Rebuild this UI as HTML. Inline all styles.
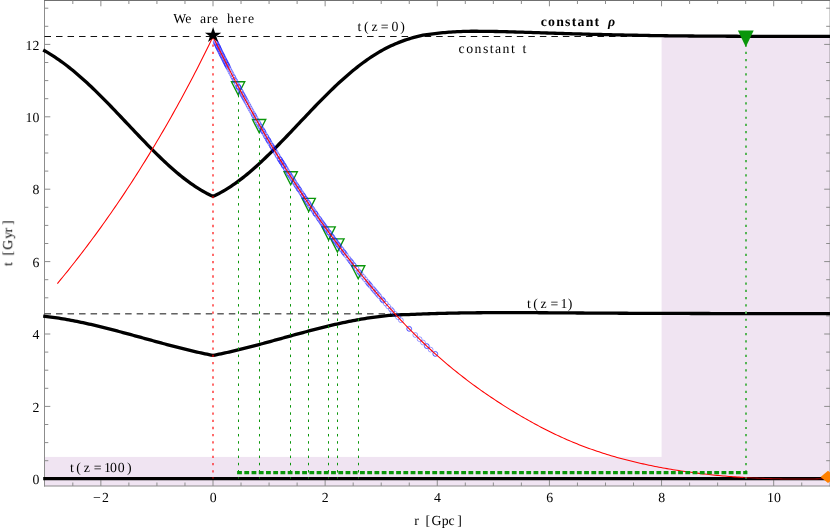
<!DOCTYPE html>
<html><head><meta charset="utf-8"><title>plot</title>
<style>html,body{margin:0;padding:0;background:#fff;}svg{display:block;}text{font-family:"Liberation Serif",serif;font-size:13.8px;fill:#000;text-rendering:geometricPrecision;}</style></head><body>
<svg width="830" height="531" viewBox="0 0 830 531">
<rect x="0" y="0" width="830" height="531" fill="#fff"/>
<rect x="44.7" y="456.9" width="785.3" height="29.2" fill="#F0E4F2"/>
<rect x="661.6" y="36.5" width="168.4" height="449.6" fill="#F0E4F2"/>
<g stroke="#8c8c8c" stroke-width="1" fill="none">
<line x1="44.5" y1="0" x2="44.5" y2="486.5"/>
<line x1="44" y1="486" x2="830" y2="486"/>
<line x1="44" y1="0.5" x2="830" y2="0.5" stroke="#707070"/>
<line x1="829.5" y1="1" x2="829.5" y2="486.5" stroke="#666" stroke-opacity="0.3"/>
<line x1="72.82" y1="486" x2="72.82" y2="482.50"/>
<line x1="72.82" y1="0.5" x2="72.82" y2="4.00"/>
<line x1="100.86" y1="486" x2="100.86" y2="480.20"/>
<line x1="100.86" y1="0.5" x2="100.86" y2="6.30"/>
<line x1="128.89" y1="486" x2="128.89" y2="482.50"/>
<line x1="128.89" y1="0.5" x2="128.89" y2="4.00"/>
<line x1="156.93" y1="486" x2="156.93" y2="482.50"/>
<line x1="156.93" y1="0.5" x2="156.93" y2="4.00"/>
<line x1="184.97" y1="486" x2="184.97" y2="482.50"/>
<line x1="184.97" y1="0.5" x2="184.97" y2="4.00"/>
<line x1="213.00" y1="486" x2="213.00" y2="480.20"/>
<line x1="213.00" y1="0.5" x2="213.00" y2="6.30"/>
<line x1="241.03" y1="486" x2="241.03" y2="482.50"/>
<line x1="241.03" y1="0.5" x2="241.03" y2="4.00"/>
<line x1="269.07" y1="486" x2="269.07" y2="482.50"/>
<line x1="269.07" y1="0.5" x2="269.07" y2="4.00"/>
<line x1="297.11" y1="486" x2="297.11" y2="482.50"/>
<line x1="297.11" y1="0.5" x2="297.11" y2="4.00"/>
<line x1="325.14" y1="486" x2="325.14" y2="480.20"/>
<line x1="325.14" y1="0.5" x2="325.14" y2="6.30"/>
<line x1="353.18" y1="486" x2="353.18" y2="482.50"/>
<line x1="353.18" y1="0.5" x2="353.18" y2="4.00"/>
<line x1="381.21" y1="486" x2="381.21" y2="482.50"/>
<line x1="381.21" y1="0.5" x2="381.21" y2="4.00"/>
<line x1="409.25" y1="486" x2="409.25" y2="482.50"/>
<line x1="409.25" y1="0.5" x2="409.25" y2="4.00"/>
<line x1="437.28" y1="486" x2="437.28" y2="480.20"/>
<line x1="437.28" y1="0.5" x2="437.28" y2="6.30"/>
<line x1="465.31" y1="486" x2="465.31" y2="482.50"/>
<line x1="465.31" y1="0.5" x2="465.31" y2="4.00"/>
<line x1="493.35" y1="486" x2="493.35" y2="482.50"/>
<line x1="493.35" y1="0.5" x2="493.35" y2="4.00"/>
<line x1="521.38" y1="486" x2="521.38" y2="482.50"/>
<line x1="521.38" y1="0.5" x2="521.38" y2="4.00"/>
<line x1="549.42" y1="486" x2="549.42" y2="480.20"/>
<line x1="549.42" y1="0.5" x2="549.42" y2="6.30"/>
<line x1="577.45" y1="486" x2="577.45" y2="482.50"/>
<line x1="577.45" y1="0.5" x2="577.45" y2="4.00"/>
<line x1="605.49" y1="486" x2="605.49" y2="482.50"/>
<line x1="605.49" y1="0.5" x2="605.49" y2="4.00"/>
<line x1="633.52" y1="486" x2="633.52" y2="482.50"/>
<line x1="633.52" y1="0.5" x2="633.52" y2="4.00"/>
<line x1="661.56" y1="486" x2="661.56" y2="480.20"/>
<line x1="661.56" y1="0.5" x2="661.56" y2="6.30"/>
<line x1="689.60" y1="486" x2="689.60" y2="482.50"/>
<line x1="689.60" y1="0.5" x2="689.60" y2="4.00"/>
<line x1="717.63" y1="486" x2="717.63" y2="482.50"/>
<line x1="717.63" y1="0.5" x2="717.63" y2="4.00"/>
<line x1="745.66" y1="486" x2="745.66" y2="482.50"/>
<line x1="745.66" y1="0.5" x2="745.66" y2="4.00"/>
<line x1="773.70" y1="486" x2="773.70" y2="480.20"/>
<line x1="773.70" y1="0.5" x2="773.70" y2="6.30"/>
<line x1="801.74" y1="486" x2="801.74" y2="482.50"/>
<line x1="801.74" y1="0.5" x2="801.74" y2="4.00"/>
<line x1="44.5" y1="478.80" x2="50.30" y2="478.80"/>
<line x1="830" y1="478.80" x2="824.20" y2="478.80"/>
<line x1="44.5" y1="460.70" x2="48.30" y2="460.70"/>
<line x1="830" y1="460.70" x2="826.20" y2="460.70"/>
<line x1="44.5" y1="442.60" x2="48.30" y2="442.60"/>
<line x1="830" y1="442.60" x2="826.20" y2="442.60"/>
<line x1="44.5" y1="424.50" x2="48.30" y2="424.50"/>
<line x1="830" y1="424.50" x2="826.20" y2="424.50"/>
<line x1="44.5" y1="406.40" x2="50.30" y2="406.40"/>
<line x1="830" y1="406.40" x2="824.20" y2="406.40"/>
<line x1="44.5" y1="388.30" x2="48.30" y2="388.30"/>
<line x1="830" y1="388.30" x2="826.20" y2="388.30"/>
<line x1="44.5" y1="370.20" x2="48.30" y2="370.20"/>
<line x1="830" y1="370.20" x2="826.20" y2="370.20"/>
<line x1="44.5" y1="352.10" x2="48.30" y2="352.10"/>
<line x1="830" y1="352.10" x2="826.20" y2="352.10"/>
<line x1="44.5" y1="334.00" x2="50.30" y2="334.00"/>
<line x1="830" y1="334.00" x2="824.20" y2="334.00"/>
<line x1="44.5" y1="315.90" x2="48.30" y2="315.90"/>
<line x1="830" y1="315.90" x2="826.20" y2="315.90"/>
<line x1="44.5" y1="297.80" x2="48.30" y2="297.80"/>
<line x1="830" y1="297.80" x2="826.20" y2="297.80"/>
<line x1="44.5" y1="279.70" x2="48.30" y2="279.70"/>
<line x1="830" y1="279.70" x2="826.20" y2="279.70"/>
<line x1="44.5" y1="261.60" x2="50.30" y2="261.60"/>
<line x1="830" y1="261.60" x2="824.20" y2="261.60"/>
<line x1="44.5" y1="243.50" x2="48.30" y2="243.50"/>
<line x1="830" y1="243.50" x2="826.20" y2="243.50"/>
<line x1="44.5" y1="225.40" x2="48.30" y2="225.40"/>
<line x1="830" y1="225.40" x2="826.20" y2="225.40"/>
<line x1="44.5" y1="207.30" x2="48.30" y2="207.30"/>
<line x1="830" y1="207.30" x2="826.20" y2="207.30"/>
<line x1="44.5" y1="189.20" x2="50.30" y2="189.20"/>
<line x1="830" y1="189.20" x2="824.20" y2="189.20"/>
<line x1="44.5" y1="171.10" x2="48.30" y2="171.10"/>
<line x1="830" y1="171.10" x2="826.20" y2="171.10"/>
<line x1="44.5" y1="153.00" x2="48.30" y2="153.00"/>
<line x1="830" y1="153.00" x2="826.20" y2="153.00"/>
<line x1="44.5" y1="134.90" x2="48.30" y2="134.90"/>
<line x1="830" y1="134.90" x2="826.20" y2="134.90"/>
<line x1="44.5" y1="116.80" x2="50.30" y2="116.80"/>
<line x1="830" y1="116.80" x2="824.20" y2="116.80"/>
<line x1="44.5" y1="98.70" x2="48.30" y2="98.70"/>
<line x1="830" y1="98.70" x2="826.20" y2="98.70"/>
<line x1="44.5" y1="80.60" x2="48.30" y2="80.60"/>
<line x1="830" y1="80.60" x2="826.20" y2="80.60"/>
<line x1="44.5" y1="62.50" x2="48.30" y2="62.50"/>
<line x1="830" y1="62.50" x2="826.20" y2="62.50"/>
<line x1="44.5" y1="44.40" x2="50.30" y2="44.40"/>
<line x1="830" y1="44.40" x2="824.20" y2="44.40"/>
<line x1="44.5" y1="26.30" x2="48.30" y2="26.30"/>
<line x1="830" y1="26.30" x2="826.20" y2="26.30"/>
<line x1="44.5" y1="8.20" x2="48.30" y2="8.20"/>
<line x1="830" y1="8.20" x2="826.20" y2="8.20"/>
</g>
<line x1="44.5" y1="36.5" x2="830" y2="36.5" stroke="#111" stroke-width="1" stroke-dasharray="6.5 5.02"/>
<line x1="44.5" y1="313.85" x2="391" y2="313.85" stroke="#111" stroke-width="1" stroke-dasharray="6.5 5.02"/>
<path d="M43.20 50.00 L45.00 51.00 L47.00 52.15 L49.00 53.34 L51.00 54.58 L53.00 55.85 L55.00 57.16 L57.00 58.51 L59.00 59.89 L61.00 61.32 L63.00 62.78 L65.00 64.27 L67.00 65.80 L69.00 67.36 L71.00 68.96 L73.00 70.58 L75.00 72.24 L77.00 73.93 L79.00 75.65 L81.00 77.40 L83.00 79.18 L85.00 80.98 L87.00 82.81 L89.00 84.67 L91.00 86.55 L93.00 88.46 L95.00 90.39 L97.00 92.34 L99.00 94.31 L101.00 96.30 L103.00 98.31 L105.00 100.33 L107.00 102.38 L109.00 104.44 L111.00 106.51 L113.00 108.59 L115.00 110.69 L117.00 112.79 L119.00 114.90 L121.00 117.01 L123.00 119.13 L125.00 121.24 L127.00 123.36 L129.00 125.48 L131.00 127.59 L133.00 129.70 L135.00 131.81 L137.00 133.91 L139.00 136.00 L141.00 138.08 L143.00 140.16 L145.00 142.22 L147.00 144.28 L149.00 146.32 L151.00 148.35 L153.00 150.36 L155.00 152.35 L157.00 154.33 L159.00 156.28 L161.00 158.22 L163.00 160.13 L165.00 162.02 L167.00 163.88 L169.00 165.71 L171.00 167.51 L173.00 169.28 L175.00 171.02 L177.00 172.72 L179.00 174.38 L181.00 176.01 L183.00 177.60 L185.00 179.16 L187.00 180.67 L189.00 182.14 L191.00 183.57 L193.00 184.96 L195.00 186.31 L197.00 187.61 L199.00 188.86 L201.00 190.07 L203.00 191.24 L205.00 192.35 L207.00 193.42 L209.00 194.43 L211.00 195.40 L213.00 196.31 L215.00 195.40 L217.00 194.43 L219.00 193.42 L221.00 192.35 L223.00 191.24 L225.00 190.07 L227.00 188.86 L229.00 187.61 L231.00 186.31 L233.00 184.96 L235.00 183.57 L237.00 182.14 L239.00 180.67 L241.00 179.16 L243.00 177.60 L245.00 176.01 L247.00 174.38 L249.00 172.72 L251.00 171.02 L253.00 169.28 L255.00 167.51 L257.00 165.71 L259.00 163.88 L261.00 162.02 L263.00 160.13 L265.00 158.22 L267.00 156.28 L269.00 154.33 L271.00 152.35 L273.00 150.36 L275.00 148.35 L277.00 146.32 L279.00 144.28 L281.00 142.22 L283.00 140.16 L285.00 138.08 L287.00 136.00 L289.00 133.91 L291.00 131.81 L293.00 129.70 L295.00 127.59 L297.00 125.48 L299.00 123.36 L301.00 121.24 L303.00 119.13 L305.00 117.01 L307.00 114.90 L309.00 112.79 L311.00 110.69 L313.00 108.59 L315.00 106.51 L317.00 104.44 L319.00 102.38 L321.00 100.33 L323.00 98.31 L325.00 96.30 L327.00 94.31 L329.00 92.34 L331.00 90.39 L333.00 88.46 L335.00 86.55 L337.00 84.67 L339.00 82.81 L341.00 80.98 L343.00 79.18 L345.00 77.40 L347.00 75.65 L349.00 73.93 L351.00 72.24 L353.00 70.58 L355.00 68.96 L357.00 67.36 L359.00 65.80 L361.00 64.27 L363.00 62.78 L365.00 61.32 L367.00 59.89 L369.00 58.51 L371.00 57.16 L373.00 55.85 L375.00 54.58 L377.00 53.34 L379.00 52.15 L381.00 51.00 L383.00 49.89 L385.00 48.82 L387.00 47.78 L389.00 46.79 L391.00 45.84 L393.00 44.92 L395.00 44.04 L397.00 43.20 L399.00 42.39 L401.00 41.62 L403.00 40.88 L405.00 40.17 L407.00 39.49 L409.00 38.84 L411.00 38.22 L413.00 37.63 L415.00 37.08 L417.00 36.56 L419.00 36.07 L421.00 35.62 L423.00 35.22 L425.00 34.86 L427.00 34.55 L429.00 34.28 L431.00 34.03 L433.00 33.79 L435.00 33.55 L437.00 33.32 L439.00 33.10 L441.00 32.90 L443.00 32.71 L445.00 32.52 L447.00 32.35 L449.00 32.19 L451.00 32.05 L453.00 31.92 L455.00 31.81 L457.00 31.71 L459.00 31.62 L461.00 31.55 L463.00 31.47 L465.00 31.40 L467.00 31.35 L469.00 31.30 L471.00 31.27 L473.00 31.26 L475.00 31.26 L477.00 31.27 L479.00 31.28 L481.00 31.29 L483.00 31.31 L485.00 31.33 L487.00 31.36 L489.00 31.39 L491.00 31.42 L493.00 31.45 L495.00 31.48 L497.00 31.51 L499.00 31.54 L501.00 31.59 L503.00 31.63 L505.00 31.69 L507.00 31.74 L509.00 31.80 L511.00 31.86 L513.00 31.92 L515.00 31.98 L517.00 32.03 L519.00 32.09 L521.00 32.15 L523.00 32.22 L525.00 32.28 L527.00 32.34 L529.00 32.41 L531.00 32.47 L533.00 32.53 L535.00 32.60 L537.00 32.66 L539.00 32.72 L541.00 32.79 L543.00 32.85 L545.00 32.92 L547.00 32.98 L549.00 33.05 L551.00 33.11 L553.00 33.18 L555.00 33.24 L557.00 33.30 L559.00 33.37 L561.00 33.43 L563.00 33.49 L565.00 33.55 L567.00 33.61 L569.00 33.68 L571.00 33.74 L573.00 33.80 L575.00 33.86 L577.00 33.91 L579.00 33.97 L581.00 34.02 L583.00 34.08 L585.00 34.13 L587.00 34.18 L589.00 34.23 L591.00 34.28 L593.00 34.33 L595.00 34.38 L597.00 34.43 L599.00 34.48 L601.00 34.52 L603.00 34.57 L605.00 34.62 L607.00 34.66 L609.00 34.70 L611.00 34.75 L613.00 34.79 L615.00 34.83 L617.00 34.87 L619.00 34.91 L621.00 34.95 L623.00 34.99 L625.00 35.04 L627.00 35.08 L629.00 35.12 L631.00 35.16 L633.00 35.20 L635.00 35.23 L637.00 35.27 L639.00 35.31 L641.00 35.35 L643.00 35.39 L645.00 35.42 L647.00 35.46 L649.00 35.50 L651.00 35.53 L653.00 35.56 L655.00 35.60 L657.00 35.63 L659.00 35.66 L661.00 35.69 L663.00 35.71 L665.00 35.74 L667.00 35.76 L669.00 35.79 L671.00 35.81 L673.00 35.83 L675.00 35.85 L677.00 35.87 L679.00 35.89 L681.00 35.91 L683.00 35.93 L685.00 35.95 L687.00 35.97 L689.00 35.99 L691.00 36.00 L693.00 36.02 L695.00 36.04 L697.00 36.05 L699.00 36.07 L701.00 36.08 L703.00 36.10 L705.00 36.11 L707.00 36.13 L709.00 36.14 L711.00 36.15 L713.00 36.16 L715.00 36.17 L717.00 36.18 L719.00 36.20 L721.00 36.20 L723.00 36.21 L725.00 36.22 L727.00 36.23 L729.00 36.24 L731.00 36.25 L733.00 36.26 L735.00 36.27 L737.00 36.27 L739.00 36.28 L741.00 36.29 L743.00 36.30 L745.00 36.30 L747.00 36.31 L749.00 36.32 L751.00 36.32 L753.00 36.33 L755.00 36.33 L757.00 36.34 L759.00 36.34 L761.00 36.35 L763.00 36.35 L765.00 36.35 L767.00 36.36 L769.00 36.36 L771.00 36.36 L773.00 36.37 L775.00 36.37 L777.00 36.37 L779.00 36.38 L781.00 36.38 L783.00 36.38 L785.00 36.39 L787.00 36.39 L789.00 36.39 L791.00 36.39 L793.00 36.40 L795.00 36.40 L797.00 36.40 L799.00 36.40 L801.00 36.40 L803.00 36.40 L805.00 36.40 L807.00 36.40 L809.00 36.40 L811.00 36.40 L813.00 36.40 L815.00 36.40 L817.00 36.40 L819.00 36.40 L821.00 36.40 L823.00 36.40 L825.00 36.40 L827.00 36.40 L829.00 36.40 L830.10 36.40" fill="none" stroke="#000" stroke-width="3.3" stroke-linejoin="miter"/>
<path d="M43.20 316.09 L45.00 316.29 L47.00 316.53 L49.00 316.78 L51.00 317.04 L53.00 317.31 L55.00 317.60 L57.00 317.89 L59.00 318.20 L61.00 318.52 L63.00 318.85 L65.00 319.19 L67.00 319.55 L69.00 319.91 L71.00 320.28 L73.00 320.66 L75.00 321.05 L77.00 321.45 L79.00 321.86 L81.00 322.28 L83.00 322.70 L85.00 323.14 L87.00 323.58 L89.00 324.03 L91.00 324.48 L93.00 324.94 L95.00 325.41 L97.00 325.89 L99.00 326.37 L101.00 326.86 L103.00 327.35 L105.00 327.85 L107.00 328.36 L109.00 328.87 L111.00 329.38 L113.00 329.90 L115.00 330.42 L117.00 330.94 L119.00 331.47 L121.00 332.01 L123.00 332.54 L125.00 333.08 L127.00 333.62 L129.00 334.16 L131.00 334.71 L133.00 335.26 L135.00 335.80 L137.00 336.35 L139.00 336.90 L141.00 337.45 L143.00 338.00 L145.00 338.56 L147.00 339.11 L149.00 339.66 L151.00 340.21 L153.00 340.75 L155.00 341.30 L157.00 341.85 L159.00 342.39 L161.00 342.93 L163.00 343.47 L165.00 344.01 L167.00 344.55 L169.00 345.08 L171.00 345.60 L173.00 346.13 L175.00 346.65 L177.00 347.17 L179.00 347.68 L181.00 348.18 L183.00 348.69 L185.00 349.18 L187.00 349.67 L189.00 350.16 L191.00 350.64 L193.00 351.11 L195.00 351.58 L197.00 352.04 L199.00 352.49 L201.00 352.94 L203.00 353.38 L205.00 353.81 L207.00 354.23 L209.00 354.64 L211.00 355.05 L213.00 355.44 L215.00 355.05 L217.00 354.64 L219.00 354.23 L221.00 353.81 L223.00 353.38 L225.00 352.94 L227.00 352.49 L229.00 352.04 L231.00 351.58 L233.00 351.11 L235.00 350.64 L237.00 350.16 L239.00 349.67 L241.00 349.18 L243.00 348.69 L245.00 348.18 L247.00 347.68 L249.00 347.17 L251.00 346.65 L253.00 346.13 L255.00 345.60 L257.00 345.08 L259.00 344.55 L261.00 344.01 L263.00 343.47 L265.00 342.93 L267.00 342.39 L269.00 341.85 L271.00 341.30 L273.00 340.75 L275.00 340.21 L277.00 339.66 L279.00 339.11 L281.00 338.56 L283.00 338.00 L285.00 337.45 L287.00 336.90 L289.00 336.35 L291.00 335.80 L293.00 335.26 L295.00 334.71 L297.00 334.16 L299.00 333.62 L301.00 333.08 L303.00 332.54 L305.00 332.01 L307.00 331.47 L309.00 330.94 L311.00 330.42 L313.00 329.90 L315.00 329.38 L317.00 328.87 L319.00 328.36 L321.00 327.85 L323.00 327.35 L325.00 326.86 L327.00 326.37 L329.00 325.89 L331.00 325.41 L333.00 324.94 L335.00 324.48 L337.00 324.03 L339.00 323.58 L341.00 323.14 L343.00 322.70 L345.00 322.28 L347.00 321.86 L349.00 321.45 L351.00 321.05 L353.00 320.66 L355.00 320.28 L357.00 319.91 L359.00 319.55 L361.00 319.19 L363.00 318.85 L365.00 318.52 L367.00 318.20 L369.00 317.89 L371.00 317.60 L373.00 317.31 L375.00 317.04 L377.00 316.78 L379.00 316.53 L381.00 316.29 L383.00 316.07 L385.00 315.86 L387.00 315.67 L389.00 315.48 L391.00 315.32 L393.00 315.16 L395.00 315.03 L397.00 314.92 L399.00 314.83 L401.00 314.76 L403.00 314.71 L405.00 314.65 L407.00 314.60 L409.00 314.53 L411.00 314.46 L413.00 314.37 L415.00 314.28 L417.00 314.19 L419.00 314.11 L421.00 314.03 L423.00 313.96 L425.00 313.88 L427.00 313.81 L429.00 313.74 L431.00 313.67 L433.00 313.61 L435.00 313.54 L437.00 313.49 L439.00 313.43 L441.00 313.38 L443.00 313.34 L445.00 313.29 L447.00 313.24 L449.00 313.20 L451.00 313.16 L453.00 313.12 L455.00 313.08 L457.00 313.04 L459.00 313.01 L461.00 312.97 L463.00 312.94 L465.00 312.91 L467.00 312.89 L469.00 312.86 L471.00 312.84 L473.00 312.82 L475.00 312.79 L477.00 312.77 L479.00 312.75 L481.00 312.73 L483.00 312.70 L485.00 312.68 L487.00 312.67 L489.00 312.65 L491.00 312.63 L493.00 312.62 L495.00 312.61 L497.00 312.61 L499.00 312.60 L501.00 312.60 L503.00 312.60 L505.00 312.60 L507.00 312.61 L509.00 312.61 L511.00 312.61 L513.00 312.62 L515.00 312.63 L517.00 312.63 L519.00 312.64 L521.00 312.65 L523.00 312.66 L525.00 312.66 L527.00 312.67 L529.00 312.68 L531.00 312.69 L533.00 312.70 L535.00 312.71 L537.00 312.72 L539.00 312.73 L541.00 312.74 L543.00 312.75 L545.00 312.76 L547.00 312.77 L549.00 312.78 L551.00 312.79 L553.00 312.81 L555.00 312.82 L557.00 312.83 L559.00 312.85 L561.00 312.86 L563.00 312.88 L565.00 312.89 L567.00 312.91 L569.00 312.92 L571.00 312.94 L573.00 312.95 L575.00 312.97 L577.00 312.98 L579.00 312.99 L581.00 313.01 L583.00 313.02 L585.00 313.03 L587.00 313.04 L589.00 313.06 L591.00 313.07 L593.00 313.08 L595.00 313.09 L597.00 313.11 L599.00 313.12 L601.00 313.13 L603.00 313.14 L605.00 313.16 L607.00 313.17 L609.00 313.18 L611.00 313.19 L613.00 313.20 L615.00 313.21 L617.00 313.22 L619.00 313.24 L621.00 313.25 L623.00 313.26 L625.00 313.27 L627.00 313.27 L629.00 313.28 L631.00 313.29 L633.00 313.30 L635.00 313.31 L637.00 313.32 L639.00 313.32 L641.00 313.33 L643.00 313.34 L645.00 313.34 L647.00 313.35 L649.00 313.36 L651.00 313.36 L653.00 313.37 L655.00 313.38 L657.00 313.38 L659.00 313.39 L661.00 313.40 L663.00 313.40 L665.00 313.41 L667.00 313.41 L669.00 313.42 L671.00 313.43 L673.00 313.43 L675.00 313.44 L677.00 313.44 L679.00 313.45 L681.00 313.45 L683.00 313.46 L685.00 313.46 L687.00 313.47 L689.00 313.47 L691.00 313.48 L693.00 313.48 L695.00 313.49 L697.00 313.49 L699.00 313.50 L701.00 313.50 L703.00 313.51 L705.00 313.51 L707.00 313.52 L709.00 313.52 L711.00 313.53 L713.00 313.53 L715.00 313.54 L717.00 313.54 L719.00 313.55 L721.00 313.55 L723.00 313.56 L725.00 313.56 L727.00 313.56 L729.00 313.57 L731.00 313.57 L733.00 313.58 L735.00 313.58 L737.00 313.59 L739.00 313.59 L741.00 313.60 L743.00 313.60 L745.00 313.60 L747.00 313.61 L749.00 313.61 L751.00 313.62 L753.00 313.62 L755.00 313.62 L757.00 313.63 L759.00 313.63 L761.00 313.63 L763.00 313.64 L765.00 313.64 L767.00 313.64 L769.00 313.64 L771.00 313.65 L773.00 313.65 L775.00 313.65 L777.00 313.65 L779.00 313.66 L781.00 313.66 L783.00 313.66 L785.00 313.66 L787.00 313.67 L789.00 313.67 L791.00 313.67 L793.00 313.67 L795.00 313.67 L797.00 313.68 L799.00 313.68 L801.00 313.68 L803.00 313.68 L805.00 313.68 L807.00 313.69 L809.00 313.69 L811.00 313.69 L813.00 313.69 L815.00 313.69 L817.00 313.69 L819.00 313.69 L821.00 313.70 L823.00 313.70 L825.00 313.70 L827.00 313.70 L829.00 313.70 L830.10 313.70" fill="none" stroke="#000" stroke-width="3.3" stroke-linejoin="miter"/>
<line x1="43.2" y1="478.6" x2="830" y2="478.6" stroke="#000" stroke-width="3.2"/>
<path d="M230.35 81.05 L245.85 81.05 L238.10 96.30 Z M232.55 82.40 L243.65 82.40 L238.10 93.32 Z" fill="#0a960a" fill-rule="evenodd"/>
<path d="M251.35 118.85 L266.85 118.85 L259.10 134.10 Z M253.55 120.20 L264.65 120.20 L259.10 131.12 Z" fill="#0a960a" fill-rule="evenodd"/>
<path d="M282.95 171.05 L298.45 171.05 L290.70 186.30 Z M285.15 172.40 L296.25 172.40 L290.70 183.32 Z" fill="#0a960a" fill-rule="evenodd"/>
<path d="M300.95 197.75 L316.45 197.75 L308.70 213.00 Z M303.15 199.10 L314.25 199.10 L308.70 210.02 Z" fill="#0a960a" fill-rule="evenodd"/>
<path d="M320.85 226.25 L336.35 226.25 L328.60 241.50 Z M323.05 227.60 L334.15 227.60 L328.60 238.52 Z" fill="#0a960a" fill-rule="evenodd"/>
<path d="M329.65 238.25 L345.15 238.25 L337.40 253.50 Z M331.85 239.60 L342.95 239.60 L337.40 250.52 Z" fill="#0a960a" fill-rule="evenodd"/>
<path d="M350.45 265.05 L365.95 265.05 L358.20 280.30 Z M352.65 266.40 L363.75 266.40 L358.20 277.32 Z" fill="#0a960a" fill-rule="evenodd"/>
<g fill="none" stroke="#1414ff" stroke-opacity="0.52" stroke-width="0.8"><circle cx="215.6" cy="42.0" r="2.4"/><circle cx="215.9" cy="42.6" r="2.4"/><circle cx="216.4" cy="43.6" r="2.4"/><circle cx="216.7" cy="44.4" r="2.4"/><circle cx="217.3" cy="45.4" r="2.4"/><circle cx="217.8" cy="46.5" r="2.4"/><circle cx="218.0" cy="46.9" r="2.4"/><circle cx="218.1" cy="47.2" r="2.4"/><circle cx="218.8" cy="48.5" r="2.4"/><circle cx="219.1" cy="49.2" r="2.4"/><circle cx="219.4" cy="49.8" r="2.4"/><circle cx="220.1" cy="51.3" r="2.4"/><circle cx="220.6" cy="52.1" r="2.4"/><circle cx="221.2" cy="53.5" r="2.4"/><circle cx="221.6" cy="54.3" r="2.4"/><circle cx="222.2" cy="55.4" r="2.4"/><circle cx="222.4" cy="55.9" r="2.4"/><circle cx="222.9" cy="56.9" r="2.4"/><circle cx="223.6" cy="58.3" r="2.4"/><circle cx="224.1" cy="59.2" r="2.4"/><circle cx="224.7" cy="60.4" r="2.4"/><circle cx="225.2" cy="61.5" r="2.4"/><circle cx="225.4" cy="61.9" r="2.4"/><circle cx="226.0" cy="63.1" r="2.4"/><circle cx="226.5" cy="64.1" r="2.4"/><circle cx="226.9" cy="64.7" r="2.4"/><circle cx="227.0" cy="65.0" r="2.4"/><circle cx="227.7" cy="66.4" r="2.4"/><circle cx="228.1" cy="67.2" r="2.4"/><circle cx="229.2" cy="69.3" r="2.4"/><circle cx="230.4" cy="71.7" r="2.4"/><circle cx="231.5" cy="73.8" r="2.4"/><circle cx="232.8" cy="76.3" r="2.4"/><circle cx="233.5" cy="77.6" r="2.4"/><circle cx="234.6" cy="79.8" r="2.4"/><circle cx="235.4" cy="81.2" r="2.4"/><circle cx="236.7" cy="83.7" r="2.4"/><circle cx="238.0" cy="86.1" r="2.4"/><circle cx="238.3" cy="86.7" r="2.4"/><circle cx="238.6" cy="87.3" r="2.4"/><circle cx="239.1" cy="88.2" r="2.4"/><circle cx="240.5" cy="90.8" r="2.4"/><circle cx="241.2" cy="92.1" r="2.4"/><circle cx="242.1" cy="93.9" r="2.4"/><circle cx="242.7" cy="94.9" r="2.4"/><circle cx="243.5" cy="96.4" r="2.4"/><circle cx="244.2" cy="97.6" r="2.4"/><circle cx="244.8" cy="98.8" r="2.4"/><circle cx="245.7" cy="100.4" r="2.4"/><circle cx="246.6" cy="102.1" r="2.4"/><circle cx="247.9" cy="104.4" r="2.4"/><circle cx="248.9" cy="106.3" r="2.4"/><circle cx="250.2" cy="108.6" r="2.4"/><circle cx="251.4" cy="110.8" r="2.4"/><circle cx="252.8" cy="113.3" r="2.4"/><circle cx="253.8" cy="115.1" r="2.4"/><circle cx="254.2" cy="115.8" r="2.4"/><circle cx="255.5" cy="118.0" r="2.4"/><circle cx="256.8" cy="120.4" r="2.4"/><circle cx="258.1" cy="122.6" r="2.4"/><circle cx="259.0" cy="124.2" r="2.4"/><circle cx="260.0" cy="126.0" r="2.4"/><circle cx="260.5" cy="126.8" r="2.4"/><circle cx="261.7" cy="128.9" r="2.4"/><circle cx="262.6" cy="130.4" r="2.4"/><circle cx="263.1" cy="131.3" r="2.4"/><circle cx="263.4" cy="131.8" r="2.4"/><circle cx="264.6" cy="133.9" r="2.4"/><circle cx="266.0" cy="136.3" r="2.4"/><circle cx="266.3" cy="136.8" r="2.4"/><circle cx="267.5" cy="138.8" r="2.4"/><circle cx="268.2" cy="139.9" r="2.4"/><circle cx="268.5" cy="140.6" r="2.4"/><circle cx="269.1" cy="141.5" r="2.4"/><circle cx="270.2" cy="143.4" r="2.4"/><circle cx="271.5" cy="145.5" r="2.4"/><circle cx="271.7" cy="145.9" r="2.4"/><circle cx="272.7" cy="147.5" r="2.4"/><circle cx="272.9" cy="147.9" r="2.4"/><circle cx="274.0" cy="149.6" r="2.4"/><circle cx="274.6" cy="150.6" r="2.4"/><circle cx="275.8" cy="152.7" r="2.4"/><circle cx="277.2" cy="155.0" r="2.4"/><circle cx="278.0" cy="156.3" r="2.4"/><circle cx="279.4" cy="158.6" r="2.4"/><circle cx="280.0" cy="159.5" r="2.4"/><circle cx="280.3" cy="160.0" r="2.4"/><circle cx="281.2" cy="161.4" r="2.4"/><circle cx="281.4" cy="161.8" r="2.4"/><circle cx="281.9" cy="162.5" r="2.4"/><circle cx="282.6" cy="163.6" r="2.4"/><circle cx="283.5" cy="165.1" r="2.4"/><circle cx="283.9" cy="165.8" r="2.4"/><circle cx="284.1" cy="166.2" r="2.4"/><circle cx="285.4" cy="168.1" r="2.4"/><circle cx="286.0" cy="169.1" r="2.4"/><circle cx="287.3" cy="171.2" r="2.4"/><circle cx="288.6" cy="173.2" r="2.4"/><circle cx="289.2" cy="174.2" r="2.4"/><circle cx="290.0" cy="175.4" r="2.4"/><circle cx="290.8" cy="176.7" r="2.4"/><circle cx="291.8" cy="178.2" r="2.4"/><circle cx="292.7" cy="179.6" r="2.4"/><circle cx="293.6" cy="181.0" r="2.4"/><circle cx="294.5" cy="182.5" r="2.4"/><circle cx="295.8" cy="184.5" r="2.4"/><circle cx="296.6" cy="185.7" r="2.4"/><circle cx="297.4" cy="186.8" r="2.4"/><circle cx="298.4" cy="188.5" r="2.4"/><circle cx="298.9" cy="189.2" r="2.4"/><circle cx="299.5" cy="190.0" r="2.4"/><circle cx="300.8" cy="192.1" r="2.4"/><circle cx="301.9" cy="193.7" r="2.4"/><circle cx="302.9" cy="195.3" r="2.4"/><circle cx="303.3" cy="195.7" r="2.4"/><circle cx="304.1" cy="197.1" r="2.4"/><circle cx="305.3" cy="198.7" r="2.4"/><circle cx="305.6" cy="199.2" r="2.4"/><circle cx="306.7" cy="200.9" r="2.4"/><circle cx="307.9" cy="202.7" r="2.4"/><circle cx="308.3" cy="203.2" r="2.4"/><circle cx="309.5" cy="205.0" r="2.4"/><circle cx="310.4" cy="206.4" r="2.4"/><circle cx="311.7" cy="208.2" r="2.4"/><circle cx="312.5" cy="209.3" r="2.4"/><circle cx="313.8" cy="211.2" r="2.4"/><circle cx="315.1" cy="213.1" r="2.4"/><circle cx="315.4" cy="213.6" r="2.4"/><circle cx="315.8" cy="214.1" r="2.4"/><circle cx="317.1" cy="215.9" r="2.4"/><circle cx="318.7" cy="218.3" r="2.4"/><circle cx="319.4" cy="219.2" r="2.4"/><circle cx="320.3" cy="220.5" r="2.4"/><circle cx="321.4" cy="222.1" r="2.4"/><circle cx="322.2" cy="223.2" r="2.4"/><circle cx="323.0" cy="224.3" r="2.4"/><circle cx="323.7" cy="225.3" r="2.4"/><circle cx="324.6" cy="226.5" r="2.4"/><circle cx="325.7" cy="228.0" r="2.4"/><circle cx="326.4" cy="229.0" r="2.4"/><circle cx="327.2" cy="230.2" r="2.4"/><circle cx="328.6" cy="232.1" r="2.4"/><circle cx="329.0" cy="232.5" r="2.4"/><circle cx="330.1" cy="234.0" r="2.4"/><circle cx="331.4" cy="235.8" r="2.4"/><circle cx="332.1" cy="236.8" r="2.4"/><circle cx="332.7" cy="237.7" r="2.4"/><circle cx="334.2" cy="239.6" r="2.4"/><circle cx="334.8" cy="240.4" r="2.4"/><circle cx="335.4" cy="241.2" r="2.4"/><circle cx="336.3" cy="242.4" r="2.4"/><circle cx="337.5" cy="244.1" r="2.4"/><circle cx="338.0" cy="244.7" r="2.4"/><circle cx="338.7" cy="245.7" r="2.4"/><circle cx="339.5" cy="246.7" r="2.4"/><circle cx="341.0" cy="248.7" r="2.4"/><circle cx="341.9" cy="249.9" r="2.4"/><circle cx="343.4" cy="251.8" r="2.4"/><circle cx="343.9" cy="252.5" r="2.4"/><circle cx="344.7" cy="253.6" r="2.4"/><circle cx="345.9" cy="255.1" r="2.4"/><circle cx="348.3" cy="258.3" r="2.4"/><circle cx="349.8" cy="260.2" r="2.4"/><circle cx="350.8" cy="261.5" r="2.4"/><circle cx="351.6" cy="262.5" r="2.4"/><circle cx="353.3" cy="264.6" r="2.4"/><circle cx="354.2" cy="265.8" r="2.4"/><circle cx="356.5" cy="268.6" r="2.4"/><circle cx="358.8" cy="271.6" r="2.4"/><circle cx="359.7" cy="272.7" r="2.4"/><circle cx="360.8" cy="274.1" r="2.4"/><circle cx="363.1" cy="276.9" r="2.4"/><circle cx="365.0" cy="279.2" r="2.4"/><circle cx="367.3" cy="282.0" r="2.4"/><circle cx="368.5" cy="283.5" r="2.4"/><circle cx="369.3" cy="284.4" r="2.4"/><circle cx="370.5" cy="285.8" r="2.4"/><circle cx="372.7" cy="288.5" r="2.4"/><circle cx="373.8" cy="289.8" r="2.4"/><circle cx="375.1" cy="291.3" r="2.4"/><circle cx="376.5" cy="292.9" r="2.4"/><circle cx="377.9" cy="294.6" r="2.4"/><circle cx="379.3" cy="296.2" r="2.4"/><circle cx="381.8" cy="299.1" r="2.4"/><circle cx="382.7" cy="300.1" r="2.4"/><circle cx="383.2" cy="300.7" r="2.4"/><circle cx="385.8" cy="303.6" r="2.4"/><circle cx="388.2" cy="306.4" r="2.4"/><circle cx="390.9" cy="309.3" r="2.4"/><circle cx="392.3" cy="310.9" r="2.4"/><circle cx="394.9" cy="313.8" r="2.4"/><circle cx="398.0" cy="317.1" r="2.4"/><circle cx="400.9" cy="320.2" r="2.4"/><circle cx="409.0" cy="328.6" r="2.4"/><circle cx="409.4" cy="329.1" r="2.4"/><circle cx="415.3" cy="335.0" r="2.4"/><circle cx="419.6" cy="339.2" r="2.4"/><circle cx="423.0" cy="342.5" r="2.4"/><circle cx="426.6" cy="345.9" r="2.4"/><circle cx="427.0" cy="346.3" r="2.4"/><circle cx="430.6" cy="349.6" r="2.4"/><circle cx="435.1" cy="353.7" r="2.4"/><circle cx="435.5" cy="354.1" r="2.4"/></g>
<path d="M57.40 283.57 L59.00 281.64 L61.00 279.20 L63.00 276.76 L65.00 274.29 L67.00 271.81 L69.00 269.31 L71.00 266.79 L73.00 264.26 L75.00 261.71 L77.00 259.14 L79.00 256.56 L81.00 253.96 L83.00 251.35 L85.00 248.72 L87.00 246.07 L89.00 243.41 L91.00 240.73 L93.00 238.03 L95.00 235.32 L97.00 232.59 L99.00 229.84 L101.00 227.07 L103.00 224.28 L105.00 221.48 L107.00 218.66 L109.00 215.81 L111.00 212.95 L113.00 210.07 L115.00 207.17 L117.00 204.25 L119.00 201.30 L121.00 198.34 L123.00 195.36 L125.00 192.35 L127.00 189.32 L129.00 186.28 L131.00 183.21 L133.00 180.12 L135.00 177.01 L137.00 173.87 L139.00 170.72 L141.00 167.54 L143.00 164.34 L145.00 161.12 L147.00 157.88 L149.00 154.61 L151.00 151.33 L153.00 148.02 L155.00 144.68 L157.00 141.33 L159.00 137.95 L161.00 134.55 L163.00 131.13 L165.00 127.68 L167.00 124.20 L169.00 120.70 L171.00 117.18 L173.00 113.63 L175.00 110.05 L177.00 106.45 L179.00 102.82 L181.00 99.17 L183.00 95.48 L185.00 91.77 L187.00 88.03 L189.00 84.26 L191.00 80.47 L193.00 76.64 L195.00 72.79 L197.00 68.90 L199.00 64.98 L201.00 61.04 L203.00 57.06 L205.00 53.04 L207.00 49.00 L209.00 44.92 L211.00 40.81 L213.00 36.66 L215.00 40.81 L217.00 44.92 L219.00 49.00 L221.00 53.04 L223.00 57.06 L225.00 61.04 L227.00 64.98 L229.00 68.90 L231.00 72.79 L233.00 76.64 L235.00 80.47 L237.00 84.26 L239.00 88.03 L241.00 91.77 L243.00 95.48 L245.00 99.17 L247.00 102.82 L249.00 106.45 L251.00 110.05 L253.00 113.63 L255.00 117.18 L257.00 120.70 L259.00 124.20 L261.00 127.68 L263.00 131.13 L265.00 134.55 L267.00 137.95 L269.00 141.33 L271.00 144.68 L273.00 148.02 L275.00 151.33 L277.00 154.61 L279.00 157.88 L281.00 161.12 L283.00 164.34 L285.00 167.54 L287.00 170.72 L289.00 173.87 L291.00 177.01 L293.00 180.12 L295.00 183.21 L297.00 186.28 L299.00 189.32 L301.00 192.35 L303.00 195.36 L305.00 198.34 L307.00 201.30 L309.00 204.25 L311.00 207.17 L313.00 210.07 L315.00 212.95 L317.00 215.81 L319.00 218.66 L321.00 221.48 L323.00 224.28 L325.00 227.07 L327.00 229.84 L329.00 232.59 L331.00 235.32 L333.00 238.03 L335.00 240.73 L337.00 243.41 L339.00 246.07 L341.00 248.72 L343.00 251.35 L345.00 253.96 L347.00 256.56 L349.00 259.14 L351.00 261.71 L353.00 264.26 L355.00 266.79 L357.00 269.31 L359.00 271.81 L361.00 274.29 L363.00 276.76 L365.00 279.20 L367.00 281.64 L369.00 284.05 L371.00 286.45 L373.00 288.83 L375.00 291.19 L377.00 293.54 L379.00 295.87 L381.00 298.18 L383.00 300.47 L385.00 302.75 L387.00 305.01 L389.00 307.25 L391.00 309.47 L393.00 311.67 L395.00 313.86 L397.00 316.02 L399.00 318.17 L401.00 320.30 L403.00 322.42 L405.00 324.51 L407.00 326.58 L409.00 328.64 L411.00 330.68 L413.00 332.70 L415.00 334.70 L417.00 336.68 L419.00 338.64 L421.00 340.58 L423.00 342.50 L425.00 344.41 L427.00 346.29 L429.00 348.16 L431.00 350.00 L433.00 351.82 L435.00 353.63 L437.00 355.42 L439.00 357.18 L441.00 358.93 L443.00 360.66 L445.00 362.38 L447.00 364.07 L449.00 365.75 L451.00 367.41 L453.00 369.05 L455.00 370.67 L457.00 372.28 L459.00 373.87 L461.00 375.44 L463.00 377.00 L465.00 378.54 L467.00 380.07 L469.00 381.58 L471.00 383.07 L473.00 384.55 L475.00 386.02 L477.00 387.47 L479.00 388.90 L481.00 390.32 L483.00 391.73 L485.00 393.13 L487.00 394.50 L489.00 395.87 L491.00 397.22 L493.00 398.56 L495.00 399.89 L497.00 401.21 L499.00 402.51 L501.00 403.80 L503.00 405.08 L505.00 406.35 L507.00 407.60 L509.00 408.85 L511.00 410.08 L513.00 411.30 L515.00 412.51 L517.00 413.71 L519.00 414.90 L521.00 416.08 L523.00 417.24 L525.00 418.39 L527.00 419.54 L529.00 420.66 L531.00 421.78 L533.00 422.88 L535.00 423.98 L537.00 425.06 L539.00 426.12 L541.00 427.18 L543.00 428.22 L545.00 429.25 L547.00 430.26 L549.00 431.26 L551.00 432.25 L553.00 433.23 L555.00 434.19 L557.00 435.13 L559.00 436.07 L561.00 436.99 L563.00 437.89 L565.00 438.79 L567.00 439.66 L569.00 440.53 L571.00 441.38 L573.00 442.21 L575.00 443.03 L577.00 443.84 L579.00 444.64 L581.00 445.42 L583.00 446.18 L585.00 446.94 L587.00 447.68 L589.00 448.41 L591.00 449.13 L593.00 449.83 L595.00 450.53 L597.00 451.21 L599.00 451.87 L601.00 452.53 L603.00 453.18 L605.00 453.81 L607.00 454.43 L609.00 455.04 L611.00 455.64 L613.00 456.23 L615.00 456.81 L617.00 457.38 L619.00 457.94 L621.00 458.48 L623.00 459.02 L625.00 459.55 L627.00 460.07 L629.00 460.58 L631.00 461.08 L633.00 461.57 L635.00 462.05 L637.00 462.52 L639.00 462.98 L641.00 463.43 L643.00 463.88 L645.00 464.32 L647.00 464.75 L649.00 465.17 L651.00 465.58 L653.00 465.99 L655.00 466.39 L657.00 466.78 L659.00 467.16 L661.00 467.54 L663.00 467.91 L665.00 468.27 L667.00 468.62 L669.00 468.97 L671.00 469.31 L673.00 469.65 L675.00 469.97 L677.00 470.29 L679.00 470.61 L681.00 470.92 L683.00 471.22 L685.00 471.51 L687.00 471.80 L689.00 472.08 L691.00 472.35 L693.00 472.62 L695.00 472.88 L697.00 473.14 L699.00 473.39 L701.00 473.63 L703.00 473.87 L705.00 474.10 L707.00 474.32 L709.00 474.54 L711.00 474.75 L713.00 474.96 L715.00 475.16 L717.00 475.36 L719.00 475.55 L721.00 475.73 L723.00 475.91 L725.00 476.08 L727.00 476.25 L729.00 476.41 L731.00 476.57 L733.00 476.72 L735.00 476.86 L737.00 477.00 L739.00 477.14 L741.00 477.27 L743.00 477.39" fill="none" stroke="#ff0000" stroke-width="1.05"/>
<path d="M743.00 477.39 L745.00 477.51 L747.00 477.63 L749.00 477.74 L751.00 477.84 L753.00 477.94 L755.00 478.04 L757.00 478.13 L759.00 478.21 L761.00 478.30 L763.00 478.37 L765.00 478.44 L767.00 478.51 L769.00 478.57 L771.00 478.63 L773.00 478.69 L775.00 478.74 L777.00 478.78 L779.00 478.82 L781.00 478.86 L783.00 478.90 L785.00 478.92 L787.00 478.95 L789.00 478.97 L791.00 478.99 L793.00 479.00 L795.00 479.01 L797.00 479.02 L799.00 479.02 L801.00 479.02 L803.00 479.01 L805.00 479.01 L807.00 478.99 L809.00 478.98 L811.00 478.96 L813.00 478.94 L815.00 478.91 L817.00 478.89 L819.00 478.85 L821.00 478.82 L823.00 478.78 L825.00 478.74 L827.00 478.70 L829.00 478.65 L830.10 478.62" fill="none" stroke="#ff0000" stroke-opacity="0.6" stroke-width="1.05"/>
<line x1="213" y1="478.5" x2="213" y2="36.5" stroke="#ff0000" stroke-opacity="0.58" stroke-width="2" stroke-dasharray="2.3 4.915" stroke-dashoffset="1.15"/>
<line x1="238.5" y1="478.5" x2="238.5" y2="93.7" stroke="#0a960a" stroke-width="1" stroke-dasharray="2.5 4.715" stroke-dashoffset="1.25"/>
<line x1="259.5" y1="478.5" x2="259.5" y2="131.5" stroke="#0a960a" stroke-width="1" stroke-dasharray="2.5 4.715" stroke-dashoffset="1.25"/>
<line x1="290.5" y1="478.5" x2="290.5" y2="183.7" stroke="#0a960a" stroke-width="1" stroke-dasharray="2.5 4.715" stroke-dashoffset="1.25"/>
<line x1="308.5" y1="478.5" x2="308.5" y2="210.4" stroke="#0a960a" stroke-width="1" stroke-dasharray="2.5 4.715" stroke-dashoffset="1.25"/>
<line x1="328.5" y1="478.5" x2="328.5" y2="238.9" stroke="#0a960a" stroke-width="1" stroke-dasharray="2.5 4.715" stroke-dashoffset="1.25"/>
<line x1="337.5" y1="478.5" x2="337.5" y2="250.9" stroke="#0a960a" stroke-width="1" stroke-dasharray="2.5 4.715" stroke-dashoffset="1.25"/>
<line x1="358.5" y1="478.5" x2="358.5" y2="277.7" stroke="#0a960a" stroke-width="1" stroke-dasharray="2.5 4.715" stroke-dashoffset="1.25"/>
<line x1="746" y1="478.5" x2="746" y2="45" stroke="#55b455" stroke-width="2" stroke-dasharray="2.2 5.015" stroke-dashoffset="1.1"/>
<line x1="237.1" y1="472.6" x2="747.4" y2="472.6" stroke="#0a960a" stroke-width="3.1" stroke-dasharray="4.8 2.43"/>
<path d="M737.9 30.5 L753.7 30.5 L745.8 47.1 Z" fill="#0a960a"/>
<path d="M820.6 477 L828 470.7 L835.4 477 L828 483.1 Z" fill="#ff8000"/>
<polygon points="0.00,-8.30 1.86,-2.57 7.89,-2.56 3.02,0.98 4.88,6.71 0.00,3.17 -4.88,6.71 -3.02,0.98 -7.89,-2.56 -1.86,-2.57" fill="#000" transform="translate(213.1 35.2) scale(1.04 1)"/>
<g opacity="0.999">
<text x="100.9" y="502.1" font-size="13" text-anchor="middle" textLength="15.8" lengthAdjust="spacing">−2</text>
<text x="213.2" y="502.1" font-size="13" text-anchor="middle">0</text>
<text x="325.3" y="502.1" font-size="13" text-anchor="middle">2</text>
<text x="437.5" y="502.1" font-size="13" text-anchor="middle">4</text>
<text x="549.6" y="502.1" font-size="13" text-anchor="middle">6</text>
<text x="661.8" y="502.1" font-size="13" text-anchor="middle">8</text>
<text x="773.9" y="502.1" font-size="13" text-anchor="middle">10</text>
<text x="39.3" y="483.9" font-size="13" text-anchor="end">0</text>
<text x="39.3" y="411.5" font-size="13" text-anchor="end">2</text>
<text x="39.3" y="339.1" font-size="13" text-anchor="end">4</text>
<text x="39.3" y="266.7" font-size="13" text-anchor="end">6</text>
<text x="39.3" y="194.3" font-size="13" text-anchor="end">8</text>
<text x="39.3" y="121.9" font-size="13" text-anchor="end">10</text>
<text x="39.3" y="49.5" font-size="13" text-anchor="end">12</text>
<text x="414.17 425.43 431.58 441.83 448.62 457.25" y="524.6">r[Gpc]</text>
<g transform="translate(12.2 266.3) rotate(-90)"><text x="0.32 10.63 16.48 27.48 33.77 41.15" y="0.0">t[Gyr]</text></g>
<text x="173.24" y="23.3" textLength="18.09" lengthAdjust="spacing">We</text>
<text x="199.96" y="23.3" textLength="18.06" lengthAdjust="spacing">are</text>
<text x="227.02" y="23.3" textLength="27.21" lengthAdjust="spacing">here</text>
<text x="357.62 363.94 371.38 380.76 391.52 400.21" y="30.5">t(z=0)</text>
<text x="458.62" y="52.5" textLength="56.11" lengthAdjust="spacing">constant</text>
<text x="522.52" y="52.5">t</text>
<text x="540.68" y="26.4" textLength="58.53" lengthAdjust="spacing" font-weight="bold">constant</text>
<text x="607.99" y="26.4" font-weight="bold" font-style="italic">ρ</text>
<text x="527.12 533.34 540.58 550.46 560.54 567.81" y="307.9">t(z=1)</text>
<text x="69.92 76.34 83.78 93.76 103.94 110.02 117.82 127.11" y="472.4">t(z=100)</text>
</g>
</svg></body></html>
